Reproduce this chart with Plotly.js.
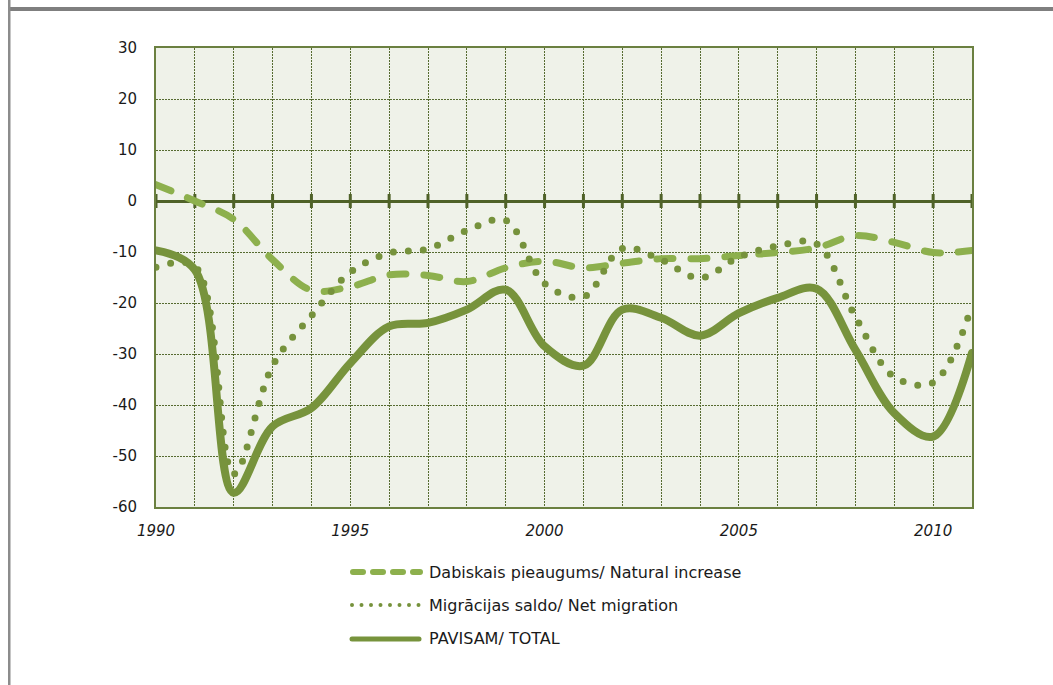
<!DOCTYPE html>
<html>
<head>
<meta charset="utf-8">
<script src="https://cdn.plot.ly/plotly-3.0.1.min.js"></script>
<style>
  html, body { margin: 0; padding: 0; background: #ffffff; }
  #chart { width: 1053px; height: 685px; }
  .scatterlayer .js-line { stroke-linecap: round !important; stroke-linejoin: round !important; }
  .shapelayer path { stroke-linecap: round; }
</style>
</head>
<body>
<div id="chart"></div>
<script>
// ---- data (thousands) ----
const years = [1990,1991,1992,1993,1994,1995,1996,1997,1998,1999,2000,2001,2002,2003,2004,2005,2006,2007,2008,2009,2010,2011];
const naturalIncrease = [3.2,0.0,-3.6,-11.5,-17.5,-16.8,-14.5,-14.6,-15.8,-13.1,-11.8,-13.1,-12.2,-11.3,-11.3,-10.7,-10.1,-9.2,-6.8,-8.1,-10.1,-9.7];
const netMigration = [-13.0,-12.8,-53.5,-32.3,-22.5,-14.0,-10.2,-9.4,-5.8,-3.8,-16.2,-18.8,-9.3,-11.5,-15.1,-11.0,-8.8,-8.4,-22.7,-34.5,-35.6,-20.5];
const total = [-9.7,-13.5,-57.2,-44.2,-40.6,-31.8,-24.6,-23.9,-21.3,-17.4,-28.5,-32.3,-21.3,-22.9,-26.4,-22.0,-19.0,-17.2,-29.2,-41.6,-46.2,-29.8];
const xTickLabels = ["1990","","","","","1995","","","","","2000","","","","","2005","","","","","2010",""];
const yTicks = [30,20,10,0,-10,-20,-30,-40,-50,-60];
const seriesNames = ["Dabiskais pieaugums/ Natural increase","Migrācijas saldo/ Net migration","PAVISAM/ TOTAL"];

// ---- styles ----
const C_NAT = '#8db04d';
const C_MIG = '#76923c';
const C_TOT = '#77933c';
const C_AXIS = '#4f6228';
const FONT = 'DejaVu Sans, Verdana, sans-serif';

const W = 1053, H = 685;
const M = {l: 156, r: 81, t: 48, b: 178};
const pw = W - M.l - M.r, ph = H - M.t - M.b;
const px2x = p => (p - M.l) / pw;
const py2y = p => (H - M.b - p) / ph;

const traces = [
  { // year tick marks on the zero line
    x: years, y: years.map(() => 0), mode: 'markers', type: 'scatter',
    marker: {symbol: 'line-ns-open', size: 10, color: C_AXIS, line: {width: 3, color: C_AXIS}},
    hoverinfo: 'skip', showlegend: false, cliponaxis: false
  },
  {
    x: years, y: naturalIncrease, name: seriesNames[0], type: 'scatter', mode: 'lines',
    line: {color: C_NAT, width: 7, dash: '16px,18px', shape: 'spline', smoothing: 1}
  },
  {
    x: years, y: netMigration, name: seriesNames[1], type: 'scatter', mode: 'lines',
    line: {color: C_MIG, width: 7, dash: '0px,15px', shape: 'spline', smoothing: 1}
  },
  {
    x: years, y: total, name: seriesNames[2], type: 'scatter', mode: 'lines',
    line: {color: C_TOT, width: 8, shape: 'spline', smoothing: 1}
  }
];

// custom legend (long sample lines)
const legendY = [572, 605, 639];
const shapes = [
  {type: 'rect', xref: 'paper', yref: 'paper', x0: px2x(8), x1: px2x(1060), y0: py2y(11), y1: py2y(7),
   fillcolor: '#7f7f7f', line: {width: 0}},
  {type: 'rect', xref: 'paper', yref: 'paper', x0: px2x(8), x1: px2x(10.5), y0: py2y(690), y1: py2y(-5),
   fillcolor: '#8c8c8c', line: {width: 0}},
  {type: 'line', xref: 'paper', yref: 'paper', x0: px2x(353), x1: px2x(420), y0: py2y(legendY[0]), y1: py2y(legendY[0]),
   line: {color: C_NAT, width: 6, dash: '10px,10px'}},
  {type: 'line', xref: 'paper', yref: 'paper', x0: px2x(352), x1: px2x(420), y0: py2y(legendY[1]), y1: py2y(legendY[1]),
   line: {color: C_MIG, width: 4, dash: '0px,9.5px'}},
  {type: 'line', xref: 'paper', yref: 'paper', x0: px2x(352), x1: px2x(419), y0: py2y(legendY[2]), y1: py2y(legendY[2]),
   line: {color: C_TOT, width: 5}}
];
const annotations = seriesNames.map((n, i) => ({
  text: n, xref: 'paper', yref: 'paper', x: px2x(427), y: py2y(legendY[i]),
  xanchor: 'left', yanchor: 'middle', showarrow: false,
  font: {family: FONT, size: 16, color: '#1a1a1a'}
}));

const layout = {
  width: W, height: H,
  margin: M,
  paper_bgcolor: '#ffffff',
  plot_bgcolor: '#eff2e9',
  showlegend: false,
  font: {family: FONT, size: 15, color: '#1a1a1a'},
  xaxis: {
    range: [1990, 2011], tickmode: 'array', tickvals: years, ticktext: xTickLabels,
    showgrid: true, gridcolor: '#566b30', gridwidth: 1, griddash: '2px,1px',
    showline: true, mirror: true, linecolor: '#6b8040', linewidth: 2,
    zeroline: false, ticks: '', ticklabelstandoff: 9,
    tickfont: {family: FONT, size: 15, style: 'italic', color: '#1a1a1a'}
  },
  yaxis: {
    range: [-60, 30], tickmode: 'array', tickvals: yTicks, ticktext: yTicks.map(String),
    showgrid: true, gridcolor: '#566b30', gridwidth: 1, griddash: '2px,1px',
    showline: true, mirror: true, linecolor: '#6b8040', linewidth: 2,
    zeroline: true, zerolinecolor: C_AXIS, zerolinewidth: 3,
    ticks: '', ticklabelstandoff: 14,
    tickfont: {family: FONT, size: 15, color: '#1a1a1a'}
  },
  shapes: shapes,
  annotations: annotations
};

Plotly.newPlot('chart', traces, layout, {displayModeBar: false, staticPlot: true});
</script>
</body>
</html>
